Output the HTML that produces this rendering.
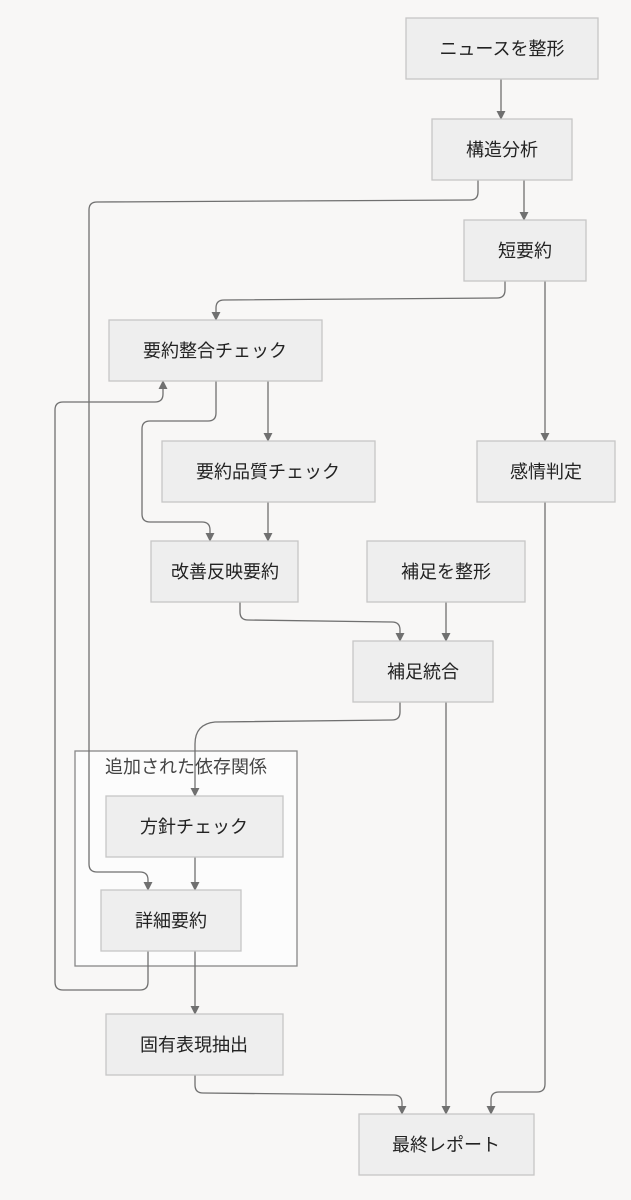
<!DOCTYPE html>
<html><head><meta charset="utf-8"><style>
html,body{margin:0;padding:0;background:#f8f7f6;}
svg{display:block;}
text{font-family:"Liberation Sans","Noto Sans CJK JP",sans-serif;font-size:18px;fill:#222;}
.b{fill:#eeeeee;stroke:#c6c6c6;stroke-width:1.3;}
.e{fill:none;stroke:#707070;stroke-width:1.3;}
</style></head><body>
<svg width="631" height="1200" viewBox="0 0 631 1200">
<defs><marker id="a" viewBox="0 0 10 10" refX="9" refY="5" markerWidth="7" markerHeight="7" orient="auto"><path d="M0,0L10,5L0,10z" fill="#707070"/></marker></defs>
<rect x="75" y="751" width="222" height="215" fill="#fcfcfc" stroke="#888" stroke-width="1.3"/>
<text x="186" y="773" text-anchor="middle" style="fill:#444">追加された依存関係</text>
<g class="e" marker-end="url(#a)">
<path d="M501,79V119"/>
<path d="M524,180V220"/>
<path d="M478,180V192Q478,200 470,200L97,202Q89,202 89,210V864Q89,872 97,872L140,872Q148,872 148,880V890"/>
<path d="M505,281V290Q505,298 497,298L224,300Q216,300 216,308V320"/>
<path d="M545,281V441"/>
<path d="M268,381V441"/>
<path d="M216,381V413Q216,421 208,421L150,421Q142,421 142,429V514Q142,522 150,522L202,522Q210,522 210,530V541"/>
<path d="M268,502V541"/>
<path d="M148,951V982Q148,990 140,990L63,990Q55,990 55,982V410Q55,402 63,402L155,402Q163,402 163,394V381"/>
<path d="M240,602V612Q240,620 248,620L392,622Q400,622 400,630V641"/>
<path d="M446,602V641"/>
<path d="M400,702V712Q400,720 392,720L215,722Q195,724 195,744V796"/>
<path d="M446,702V1114"/>
<path d="M545,502V1084Q545,1092 537,1092L499,1092Q491,1092 491,1100V1114"/>
<path d="M195,857V890"/>
<path d="M195,951V1014"/>
<path d="M195,1075V1085Q195,1093 203,1093L394,1095Q402,1095 402,1103V1114"/>
</g>
<rect class="b" x="406" y="18" width="192" height="61"/><text x="502" y="55" text-anchor="middle">ニュースを整形</text>
<rect class="b" x="432" y="119" width="140" height="61"/><text x="502" y="156" text-anchor="middle">構造分析</text>
<rect class="b" x="464" y="220" width="122" height="61"/><text x="525" y="257" text-anchor="middle">短要約</text>
<rect class="b" x="109" y="320" width="213" height="61"/><text x="215" y="357" text-anchor="middle">要約整合チェック</text>
<rect class="b" x="162" y="441" width="213" height="61"/><text x="268" y="478" text-anchor="middle">要約品質チェック</text>
<rect class="b" x="477" y="441" width="138" height="61"/><text x="546" y="478" text-anchor="middle">感情判定</text>
<rect class="b" x="151" y="541" width="147" height="61"/><text x="225" y="578" text-anchor="middle">改善反映要約</text>
<rect class="b" x="367" y="541" width="158" height="61"/><text x="446" y="578" text-anchor="middle">補足を整形</text>
<rect class="b" x="353" y="641" width="140" height="61"/><text x="423" y="678" text-anchor="middle">補足統合</text>
<rect class="b" x="106" y="796" width="177" height="61"/><text x="194" y="833" text-anchor="middle">方針チェック</text>
<rect class="b" x="101" y="890" width="140" height="61"/><text x="171" y="927" text-anchor="middle">詳細要約</text>
<rect class="b" x="106" y="1014" width="177" height="61"/><text x="194" y="1051" text-anchor="middle">固有表現抽出</text>
<rect class="b" x="359" y="1114" width="175" height="61"/><text x="446" y="1151" text-anchor="middle">最終レポート</text>
</svg>
</body></html>
